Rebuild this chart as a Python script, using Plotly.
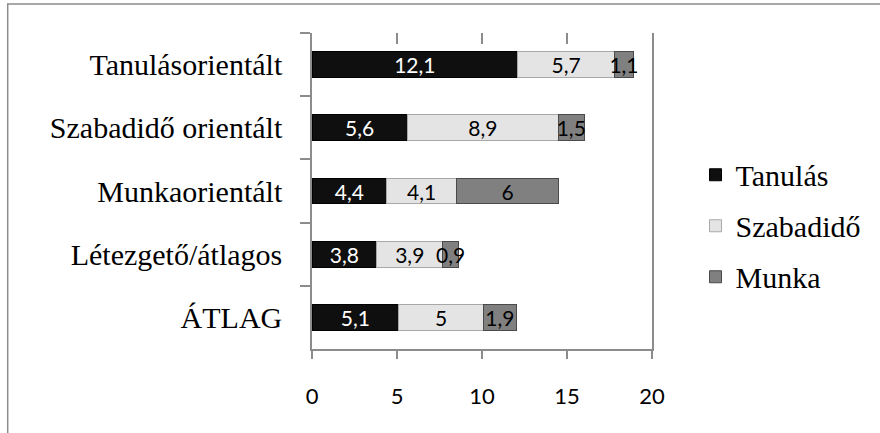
import plotly.graph_objects as go

# Time-use profile groups (top to bottom) and hours per activity
categories = ["Tanulásorientált", "Szabadidő orientált", "Munkaorientált",
              "Létezgető/átlagos", "ÁTLAG"]
tanulas = [12.1, 5.6, 4.4, 3.8, 5.1]
szabadido = [5.7, 8.9, 4.1, 3.9, 5.0]
munka = [1.1, 1.5, 6.0, 0.9, 1.9]

x_ticks = [0, 5, 10, 15, 20]
top_ticks = [5, 10, 15]

SERIF = "Liberation Serif"
SANS = "Lato"


def fmt(v):
    s = f"{v:.1f}".rstrip("0").rstrip(".")
    return s.replace(".", ",")


series = [
    ("Tanulás", tanulas, "#0f0f0f", "#000000", "white"),
    ("Szabadidő", szabadido, "#e4e4e4", "#a8a8a8", "black"),
    ("Munka", munka, "#808080", "#4a4a4a", "black"),
]

fig = go.Figure()
for i, (name, vals, fill, edge, txt) in enumerate(series):
    fig.add_trace(go.Bar(
        name=name, y=categories, x=vals, orientation="h",
        marker=dict(color=fill, line=dict(color=edge, width=1)),
        text=[fmt(v) for v in vals], textposition="inside",
        insidetextanchor="middle", constraintext="none", textangle=0,
        textfont=dict(family=SANS, size=21, color=txt),
        legendgroup=f"g{i}",
    ))

# empty trace so the top tick axis gets drawn
fig.add_trace(go.Scatter(x=[], y=[], xaxis="x2", yaxis="y", showlegend=False,
                         hoverinfo="skip"))

axis_grey = "#8c8c8c"
fig.update_layout(
    width=880, height=433,
    margin=dict(l=312, r=228, t=33, b=84),
    paper_bgcolor="white", plot_bgcolor="white",
    font=dict(family=SERIF, color="black"),
    barmode="stack", bargap=0.59,
    showlegend=True,
    legend=dict(
        x=1.128, xanchor="left", y=0.39, yanchor="middle",
        traceorder="grouped", tracegroupgap=9,
        font=dict(family=SERIF, size=30, color="black"),
        bgcolor="rgba(0,0,0,0)",
    ),
    xaxis=dict(
        range=[0, 20], tickvals=x_ticks, ticktext=[str(t) for t in x_ticks],
        showgrid=False, zeroline=False,
        showline=True, linecolor=axis_grey, linewidth=1.5,
        ticks="outside", ticklen=8, tickcolor=axis_grey, tickwidth=1.5,
        ticklabelstandoff=19,
        tickfont=dict(family=SANS, size=22, color="black"),
    ),
    xaxis2=dict(
        range=[0, 20], overlaying="x", side="top", anchor="y",
        tickvals=top_ticks, showticklabels=False, showgrid=False,
        zeroline=False, showline=False,
        ticks="inside", ticklen=11, tickcolor=axis_grey, tickwidth=1.5,
    ),
    yaxis=dict(
        categoryorder="array", categoryarray=categories, autorange="reversed",
        showgrid=False, zeroline=False,
        showline=True, mirror=True, linecolor=axis_grey, linewidth=1.5,
        ticks="outside", tickson="boundaries", ticklen=10,
        tickcolor=axis_grey, tickwidth=1.5, ticklabelstandoff=22,
        tickfont=dict(family=SERIF, size=30, color="black"),
    ),
    shapes=[dict(
        type="rect", xref="paper", yref="paper",
        x0=-0.895, x1=2.0, y0=-0.5, y1=1.092,
        line=dict(color=axis_grey, width=1.5), fillcolor="rgba(0,0,0,0)",
        layer="below",
    )],
)

fig.write_html("out.html")
